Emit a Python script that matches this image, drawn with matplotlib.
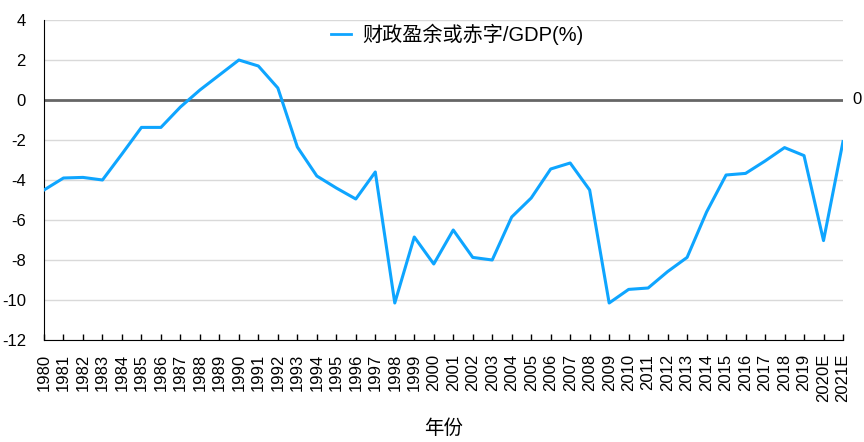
import matplotlib
matplotlib.use('Agg')
import matplotlib.pyplot as plt

plt.rcParams['font.family'] = ['Liberation Sans', 'Noto Sans CJK SC', 'DejaVu Sans']

# 年份与财政盈余或赤字占GDP比例
years = [str(y) for y in range(1980, 2020)] + ['2020E', '2021E']
balance = [-4.5, -3.9, -3.87, -4.0, -2.7, -1.37, -1.37, -0.35, 0.5, 1.25,
           2.0, 1.7, 0.6, -2.35, -3.8, -4.4, -4.95, -3.6, -10.15, -6.85,
           -8.2, -6.5, -7.87, -8.0, -5.85, -4.9, -3.45, -3.15, -4.5, -10.15,
           -9.47, -9.4, -8.58, -7.87, -5.6, -3.75, -3.67, -3.05, -2.38, -2.78,
           -7.03, -2.08]
yticks = [4, 2, 0, -2, -4, -6, -8, -10, -12]

fig = plt.figure(figsize=(8.64, 4.42), dpi=100)
ax = fig.add_axes([44 / 864, 1 - 340 / 442, (843 - 44) / 864, 320 / 442])

x = list(range(len(years)))
ax.plot(x, balance, color='#0ea5ff', linewidth=2.2, label='财政盈余或赤字/GDP(%)', zorder=3)

# 网格线和零线
for v in yticks:
    if v != 0:
        ax.axhline(v, color='#d9d9d9', linewidth=1, zorder=1)
ax.axhline(0, color='#666666', linewidth=2, zorder=2)
ax.text(1.012, 0, '0', transform=ax.get_yaxis_transform(), va='center', ha='left', fontsize=12)

ax.set_xlim(0, len(years) - 1)
ax.set_ylim(-12, 4)
ax.set_yticks(yticks)
ax.set_yticklabels([str(v) for v in yticks], fontsize=12)
ax.set_xticks(x)
ax.set_xticklabels(years, rotation=90, fontsize=12)
ax.tick_params(axis='x', direction='in', length=4, width=1, pad=10)
ax.tick_params(axis='y', length=0, pad=13)

for s in ['top', 'right']:
    ax.spines[s].set_visible(False)
ax.spines['left'].set_color('black')
ax.spines['bottom'].set_color('black')

ax.set_xlabel('年份', fontsize=14, labelpad=12)
leg = ax.legend(loc='center', bbox_to_anchor=(0.5175, 0.956), frameon=False, fontsize=14.5,
                handlelength=1.0, handletextpad=0.55)
for line in leg.get_lines():
    line.set_linewidth(2)

fig.savefig('out.png', dpi=100)
